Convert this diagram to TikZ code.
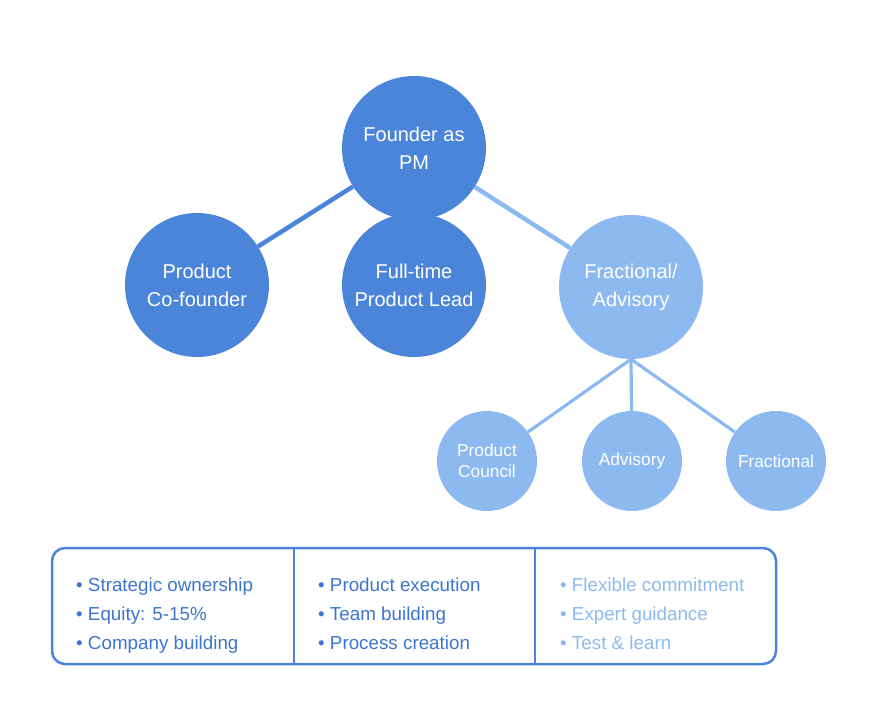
\documentclass[tikz,border=0pt]{standalone}
\usepackage{fontspec}
\setmainfont{Liberation Sans}
\definecolor{darkb}{HTML}{4A85DA}
\definecolor{lightb}{HTML}{8CBAF0}
\definecolor{textdark}{HTML}{3D74CE}
\begin{document}
\begin{tikzpicture}[x=1pt,y=-1pt,
  bigc/.style={circle,minimum size=144pt,inner sep=0pt,text=white,align=center,font=\fontsize{20}{28}\selectfont},
  smallc/.style={circle,minimum size=100pt,inner sep=0pt,text=white,align=center,fill=lightb,font=\fontsize{17.3}{21.5}\selectfont},
  conn/.style={line width=4.5pt},
  sconn/.style={line width=3.2pt,draw=lightb},
  item/.style={anchor=base west,inner sep=0pt,font=\fontsize{18.8}{22}\selectfont}]
\useasboundingbox (0,0) rectangle (884,704);
% circles
\node[bigc,fill=darkb] (fpm) at (414,148) {Founder as\\PM};
\node[bigc,fill=darkb] (pcf) at (197,285) {Product\\Co-founder};
\node[bigc,fill=darkb] (ftl) at (414,285) {Full-time\\Product Lead};
\node[bigc,fill=lightb] (fra) at (631,287) {Fractional/\\Advisory};
\node[smallc] (pco) at (487,461) {Product\\Council};
\node[smallc] (adv) at (632,461) {Advisory};
\node[smallc] (fct) at (776,461) {Fractional};
% connectors
\draw[conn,draw=darkb] (fpm) -- (pcf);
\draw[conn,draw=lightb] (fpm) -- (fra);
\draw[sconn] (fra.south) -- (pco);
\draw[sconn] (fra.south) -- (adv);
\draw[sconn] (fra.south) -- (fct);
% bottom box
\node[draw=darkb,line width=2.5pt,rounded corners=13pt,minimum width=724pt,minimum height=116pt,inner sep=0pt] (box) at (414,606) {};
\coordinate (d1t) at (294,549);
\coordinate (d1b) at (294,663);
\coordinate (d2t) at (535,549);
\coordinate (d2b) at (535,663);
\draw[darkb,line width=1.2pt] (d1t) -- (d1b);
\draw[darkb,line width=1.2pt] (d2t) -- (d2b);
% column texts
\node[item,text=textdark] (a1) at (76,591) {• Strategic ownership};
\node[item,text=textdark] (a2) at (76,620) {• Equity: 5-15\%};
\node[item,text=textdark] (a3) at (76,649) {• Company building};
\node[item,text=textdark] (b1) at (318,591) {• Product execution};
\node[item,text=textdark] (b2) at (318,620) {• Team building};
\node[item,text=textdark] (b3) at (318,649) {• Process creation};
\node[item,text=lightb] (c1) at (560,591) {• Flexible commitment};
\node[item,text=lightb] (c2) at (560,620) {• Expert guidance};
\node[item,text=lightb] (c3) at (560,649) {• Test \& learn};
\end{tikzpicture}
\end{document}
